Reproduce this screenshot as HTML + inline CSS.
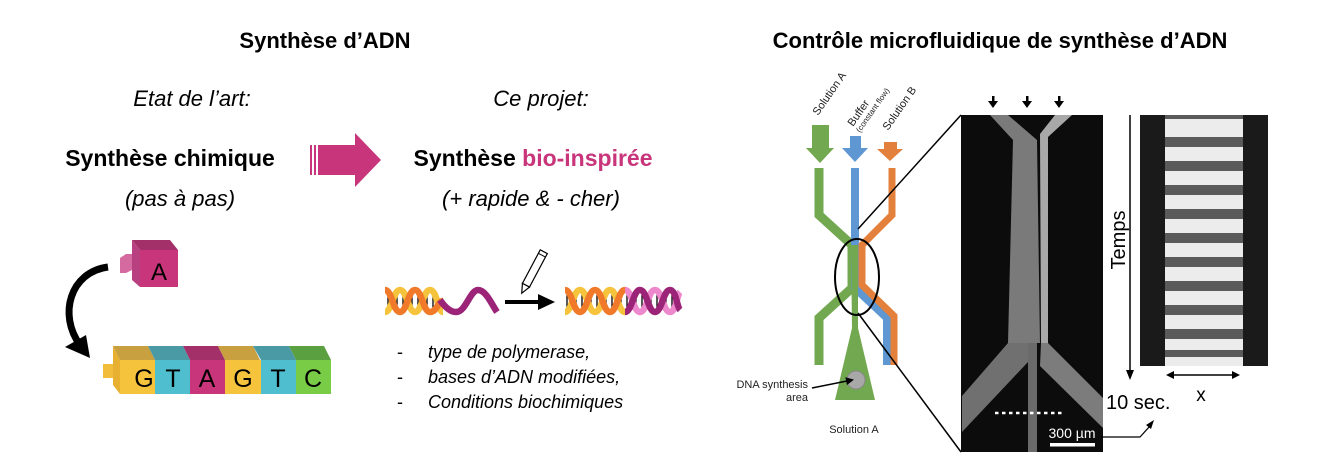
<!DOCTYPE html>
<html><head><meta charset="utf-8"><style>
html,body{margin:0;padding:0;background:#fff;}
svg{display:block;}
text{font-family:"Liberation Sans",Arial,sans-serif;}
</style></head><body>
<svg width="1322" height="466" viewBox="0 0 1322 466" xmlns="http://www.w3.org/2000/svg">
<defs>
<marker id="ah" markerWidth="8" markerHeight="8" refX="6" refY="4" orient="auto" markerUnits="userSpaceOnUse"><path d="M0,0 L8,4 L0,8 z" fill="#000"/></marker>
</defs>
<!-- titles -->
<text x="325" y="48" font-size="22" font-weight="bold" text-anchor="middle">Synthèse d’ADN</text>
<text x="1000" y="48" font-size="22" font-weight="bold" text-anchor="middle">Contrôle microfluidique de synthèse d’ADN</text>
<text x="192" y="106" font-size="22" font-style="italic" text-anchor="middle">Etat de l’art:</text>
<text x="541" y="106" font-size="22" font-style="italic" text-anchor="middle">Ce projet:</text>
<text x="170" y="166" font-size="23" font-weight="bold" text-anchor="middle">Synthèse chimique</text>
<text x="180" y="206" font-size="22" font-style="italic" text-anchor="middle">(pas à pas)</text>
<text x="533" y="166" font-size="23" font-weight="bold" text-anchor="middle">Synthèse <tspan fill="#c8357a">bio-inspirée</tspan></text>
<text x="531" y="206" font-size="22" font-style="italic" text-anchor="middle">(+ rapide &amp; - cher)</text>
<!-- pink arrow -->
<rect x="310" y="145" width="2" height="30" fill="#c8357a"/>
<rect x="314" y="145" width="2" height="30" fill="#c8357a"/>
<polygon points="318,145 355,145 355,133 381,160 355,187 355,175 318,175" fill="#c8357a"/>
<!-- pink cube A -->
<polygon points="132,240 170,240 178,250 140,250" fill="#a33068"/>
<polygon points="132,240 140,250 140,287 132,280" fill="#b84080"/>
<rect x="140" y="250" width="38" height="37" fill="#c8357a"/>
<polygon points="120,258 126,254 132,254 132,270 126,273 120,273" fill="#d56aa0"/>
<text x="159" y="280" font-size="24" text-anchor="middle">A</text>
<!-- curved arrow -->
<path d="M108,267 C70,272 58,315 80,345" fill="none" stroke="#000" stroke-width="7"/>
<polygon points="65,347 86,335 90,358" fill="#000"/>
<!-- block row -->
<rect x="103" y="364" width="18" height="14" fill="#f2bd3a"/>
<polygon points="113,346 120,360 120,394 113,385" fill="#e8b030"/>
<g>
<polygon points="113,346 148,346 155,360 120,360" fill="#c8a040"/>
<rect x="120" y="360" width="35" height="34" fill="#f6c33d"/>
<polygon points="148,346 183,346 190,360 155,360" fill="#4a9aa5"/>
<rect x="155" y="360" width="35" height="34" fill="#4fbfcf"/>
<polygon points="183,346 218,346 225,360 190,360" fill="#a33068"/>
<rect x="190" y="360" width="35" height="34" fill="#c8357a"/>
<polygon points="218,346 253,346 260,360 225,360" fill="#c8a040"/>
<rect x="225" y="360" width="36" height="34" fill="#f6c33d"/>
<polygon points="253,346 289,346 296,360 261,360" fill="#4a9aa5"/>
<rect x="261" y="360" width="35" height="34" fill="#4fbfcf"/>
<polygon points="289,346 324,346 331,360 296,360" fill="#5aa040"/>
<rect x="296" y="360" width="35" height="34" fill="#79cc45"/>
</g>
<g font-size="25" text-anchor="middle">
<text x="144" y="387">G</text><text x="173" y="387">T</text><text x="207" y="387">A</text><text x="243" y="387">G</text><text x="278" y="387">T</text><text x="313" y="387">C</text>
</g>
<!-- left helix -->
<g stroke="#000" stroke-width="1.3">
<path d="M388,295V308M391,294V309M394,294V309M397,295V308M403,295V308M406,294V309M409,294V309M412,295V308M418,295V308M421,294V309M424,294V309M427,295V308M433,295V308M436,294V309"/>
</g>
<path d="M385,312 C392,312 393,290 400,290 C407,290 408,312 415,312 C422,312 423,290 430,290 C437,290 438,312 443,312" fill="none" stroke="#f6c33d" stroke-width="6.5"/>
<path d="M385,290 C392,290 393,312 400,312 C407,312 408,290 415,290 C422,290 423,312 430,312 C437,312 438,301 443,301" fill="none" stroke="#f07a2a" stroke-width="6.5"/>
<path d="M440,300 C447,310 452,312 456,312 C466,312 470,290 478,290 C486,290 492,305 497,312" fill="none" stroke="#9c2478" stroke-width="6.5"/>
<!-- arrow and pencil -->
<line x1="505" y1="302" x2="541" y2="302" stroke="#000" stroke-width="4"/>
<polygon points="538,294 555,302 538,310" fill="#000"/>
<g transform="rotate(28 533 272)">
<rect x="529" y="249" width="8" height="38" fill="#fff" stroke="#000" stroke-width="1.2"/>
<polygon points="529,287 537,287 533,296" fill="#fff" stroke="#000" stroke-width="1.2"/>
<line x1="529" y1="253" x2="537" y2="253" stroke="#000" stroke-width="1"/>
</g>
<!-- right helix -->
<g stroke="#000" stroke-width="1.3">
<path d="M567,295V308M570,294V309M573,294V309M576,295V308M582,295V308M585,294V309M588,294V309M591,295V308M597,295V308M600,294V309M603,294V309M606,295V308M612,295V308M615,294V309M618,294V309M621,295V308M627,295V308M630,294V309M633,294V309M636,295V308M642,295V308M645,294V309M648,294V309M651,295V308M657,295V308M660,294V309M663,294V309M666,295V308M672,295V308M675,294V309M678,294V309"/>
</g>
<path d="M565,312 C572,312 573,290 580,290 C587,290 588,312 595,312 C602,312 603,290 610,290 C617,290 618,312 625,312" fill="none" stroke="#f6c33d" stroke-width="6.5"/>
<path d="M565,290 C572,290 573,312 580,312 C587,312 588,290 595,290 C602,290 603,312 610,312 C617,312 618,290 625,290" fill="none" stroke="#f07a2a" stroke-width="6.5"/>
<path d="M625,290 C632,290 633,312 640,312 C647,312 648,290 655,290 C662,290 663,312 670,312 C676,312 677,295 680,292" fill="none" stroke="#ee88cc" stroke-width="6.5"/>
<path d="M625,312 C632,312 633,290 640,290 C647,290 648,312 655,312 C662,312 663,290 670,290 C676,290 677,307 680,310" fill="none" stroke="#9c2478" stroke-width="6.5"/>
<!-- bullets -->
<g font-size="18" font-style="italic">
<text x="397" y="358" font-style="normal">-</text><text x="428" y="358">type de polymerase,</text>
<text x="397" y="383" font-style="normal">-</text><text x="428" y="383">bases d’ADN modifiées,</text>
<text x="397" y="408" font-style="normal">-</text><text x="428" y="408">Conditions biochimiques</text>
</g>
<!-- microfluidic schematic labels -->
<g font-size="11" fill="#222">
<text transform="translate(818,116) rotate(-55)">Solution A</text>
<text transform="translate(853,127) rotate(-55)">Buffer</text>
<text transform="translate(860,133) rotate(-55)" font-size="8">(constant flow)</text>
<text transform="translate(888,131) rotate(-55)">Solution B</text>
<text x="808" y="388" text-anchor="end">DNA synthesis</text>
<text x="808" y="401" text-anchor="end">area</text>
<text x="854" y="433" text-anchor="middle">Solution A</text>
</g>
<!-- inlet arrows -->
<polygon points="812,125 829,125 829,148 834,148 820,163 806,148 812,148" fill="#72a850"/>
<polygon points="850,136 861,136 861,148 868,148 855,162 842,148 850,148" fill="#5e97d2"/>
<polygon points="884,142 897,142 897,149 903,149 890,161 877,149 884,149" fill="#e3803c"/>
<!-- channels -->
<polyline points="819,168 819,215 852,245 852,288 819,318 819,365" fill="none" stroke="#72a850" stroke-width="9"/>
<polyline points="855,168 855,288 887,318 887,365" fill="none" stroke="#5e97d2" stroke-width="8"/>
<polyline points="892,168 892,215 862,245 862,285 894,316 894,365" fill="none" stroke="#e3803c" stroke-width="7"/>
<polygon points="851,245 858,245 858,328 875,400 835,400 852,328" fill="#72a850"/>
<circle cx="856" cy="380" r="9" fill="#a8a8a8" stroke="#888" stroke-width="1"/>
<line x1="812" y1="388" x2="852" y2="380" stroke="#000" stroke-width="1.5" marker-end="url(#ah)"/>
<ellipse cx="857" cy="277" rx="22" ry="38" fill="none" stroke="#000" stroke-width="2"/>
<line x1="858" y1="229" x2="961" y2="115" stroke="#000" stroke-width="1.5"/>
<line x1="858" y1="313" x2="961" y2="452" stroke="#000" stroke-width="1.5"/>
<!-- photo -->
<rect x="961" y="115" width="142" height="337" fill="#0c0c0c"/>
<polygon points="990,115 1008,115 1037,140 1040,343 1008,343 1013,140" fill="#7a7a7a"/>
<polygon points="1008,343 1030,343 1028,362 962,432 962,396" fill="#707070"/>
<rect x="1028" y="343" width="9" height="109" fill="#6a6a6a"/>
<polygon points="1055,115 1072,115 1048,137 1048,343 1041,343 1040,134" fill="#a8a8a8"/>
<polygon points="1041,343 1048,343 1103,398 1103,428 1040,366" fill="#7c7c7c"/>
<line x1="995" y1="413" x2="1062" y2="413" stroke="#fff" stroke-width="2.5" stroke-dasharray="3.5,3.5"/>
<text x="1072" y="438" font-size="14" fill="#fff" text-anchor="middle">300 µm</text>
<rect x="1050" y="443" width="45" height="3.5" fill="#fff"/>
<!-- arrows on top -->
<g fill="#000">
<rect x="992" y="96" width="2.5" height="6"/><polygon points="988,101 998,101 993,108"/>
<rect x="1026" y="96" width="2.5" height="6"/><polygon points="1022,101 1032,101 1027,108"/>
<rect x="1058" y="96" width="2.5" height="6"/><polygon points="1054,101 1064,101 1059,108"/>
</g>
<!-- scale arrow -->
<polyline points="1101,437 1140,437 1150,426" fill="none" stroke="#000" stroke-width="1.2"/>
<polygon points="1146,425 1154,420 1151,429" fill="#000"/>
<!-- kymograph -->
<rect x="1140" y="115" width="128" height="251" fill="#1a1a1a"/>
<rect x="1165" y="115" width="78" height="251" fill="#ececec"/>
<g fill="#5a5a5a">
<rect x="1165" y="115" width="78" height="4"/>
<rect x="1165" y="137" width="78" height="10"/>
<rect x="1165" y="161" width="78" height="10"/>
<rect x="1165" y="185" width="78" height="10"/>
<rect x="1165" y="209" width="78" height="10"/>
<rect x="1165" y="233" width="78" height="10"/>
<rect x="1165" y="257" width="78" height="10"/>
<rect x="1165" y="281" width="78" height="10"/>
<rect x="1165" y="305" width="78" height="10"/>
<rect x="1165" y="329" width="78" height="10"/>
<rect x="1165" y="350" width="78" height="7"/>
</g>
<line x1="1130" y1="115" x2="1130" y2="372" stroke="#000" stroke-width="1.5"/>
<polygon points="1126,370 1134,370 1130,380" fill="#000"/>
<text transform="translate(1125,240) rotate(-90)" font-size="20" text-anchor="middle">Temps</text>
<line x1="1172" y1="375" x2="1234" y2="375" stroke="#000" stroke-width="1.5"/>
<polygon points="1166,375 1174,371 1174,379" fill="#000"/>
<polygon points="1240,375 1232,371 1232,379" fill="#000"/>
<text x="1201" y="401" font-size="19" text-anchor="middle">x</text>
<text x="1106" y="409" font-size="20">10 sec.</text>
</svg>
</body></html>
